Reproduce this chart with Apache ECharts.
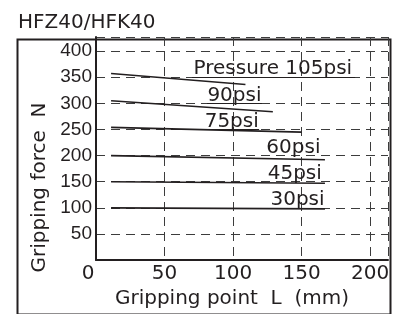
<!DOCTYPE html>
<html>
<head>
<meta charset="utf-8">
<script src="https://cdn.jsdelivr.net/npm/echarts@6.0.0/dist/echarts.min.js"></script>
<style>
  html, body { margin: 0; padding: 0; background: #fff; }
  #chart { width: 403px; height: 314px; }
</style>
</head>
<body>
<div id="chart"></div>
<script>
// pressure curves: [L (mm), force (N)] at start and end
var pressures = ['105psi', '90psi', '75psi', '60psi', '45psi', '30psi'];
var curve105 = [[11, 357], [109, 336]];
var curve90 = [[11, 305], [129, 284]];
var curve75 = [[11, 254], [150, 245]];
var curve60 = [[11, 200], [167, 192]];
var curve45 = [[11, 150], [167, 147]];
var curve30 = [[11, 100], [167, 98]];

// label anchors [x, y, text]
var labelPoints = [
    [129, 350, 'Pressure 105psi'],
    [101, 300, '90psi'],
    [99, 250, '75psi'],
    [144, 200, '60psi'],
    [145, 150, '45psi'],
    [147, 100, '30psi']
];
// underlines under the upper labels [x1, x2, y]
var underlines = [[70, 189, 350], [81, 121, 300], [80, 119, 250]];

var xTicks = [0, 50, 100, 150, 200];
var yTicks = [50, 100, 150, 200, 250, 300, 350, 400];

var ink = '#231f20';
var chart = echarts.init(document.getElementById('chart'));

var curves = [curve105, curve90, curve75, curve60, curve45, curve30];
var series = curves.map(function (c, i) {
    return {
        name: pressures[i],
        type: 'line',
        data: c,
        symbol: 'none',
        silent: true,
        lineStyle: { color: ink, width: 1.6 }
    };
});

series.push({
    name: 'labels',
    type: 'scatter',
    symbolSize: 0,
    silent: true,
    data: labelPoints,
    itemStyle: { color: ink, opacity: 1 },
    label: {
        show: true,
        position: 'top',
        distance: 0,
        offset: [0, 2],
        formatter: function (p) { return p.value[2]; },
        color: ink,
        opacity: 1,
        textBorderWidth: 0,
        fontSize: 20,
        fontFamily: 'DejaVu Sans'
    },
    markLine: {
        silent: true,
        symbol: 'none',
        label: { show: false },
        lineStyle: { color: ink, width: 1.2, type: 'solid', opacity: 1 },
        data: underlines.map(function (u) {
            return [{ coord: [u[0], u[2]] }, { coord: [u[1], u[2]] }];
        })
    }
});

chart.setOption({
    animation: false,
    title: {
        text: 'HFZ40/HFK40',
        left: 13,
        top: 8,
        textStyle: {
            color: ink,
            fontSize: 20,
            fontWeight: 'normal',
            fontFamily: 'DejaVu Sans'
        }
    },
    graphic: [{
        type: 'rect',
        left: 15,
        top: 37,
        shape: { width: 373, height: 275 },
        style: { fill: 'none', stroke: ink, lineWidth: 2 },
        silent: true
    }],
    grid: {
        left: 96,
        top: 37,
        right: 15,
        bottom: 48
    },
    xAxis: {
        type: 'value',
        min: 0,
        max: 213,
        interval: 50,
        name: 'Gripping point  L  (mm)',
        nameLocation: 'middle',
        nameGap: 21,
        nameTextStyle: {
            color: ink,
            fontSize: 20,
            fontFamily: 'DejaVu Sans',
            padding: [0, 20, 0, 0]
        },
        axisLine: { lineStyle: { color: ink, width: 2 } },
        axisTick: { show: false },
        axisLabel: {
            margin: 4,
            color: ink,
            fontSize: 20,
            fontFamily: 'DejaVu Sans',
            formatter: function (v) {
                if (xTicks.indexOf(v) < 0) return '';
                return v === 0 ? '{z|0}' : String(v);
            },
            rich: { z: { fontSize: 20, fontFamily: 'DejaVu Sans', color: ink, padding: [0, 16, 0, 0] } }
        },
        splitLine: {
            show: true,
            lineStyle: { color: '#3c3c3c', width: 1, type: [9, 6] }
        }
    },
    yAxis: {
        type: 'value',
        min: 0,
        max: 427,
        interval: 50,
        name: 'Gripping force  N',
        nameLocation: 'middle',
        nameGap: 44,
        nameTextStyle: {
            color: ink,
            fontSize: 20,
            fontFamily: 'DejaVu Sans',
            padding: [0, 78, 0, 0]
        },
        axisLine: { show: true, lineStyle: { color: ink, width: 2 } },
        axisTick: { show: false },
        axisLabel: {
            margin: 4,
            color: ink,
            fontSize: 19,
            fontFamily: 'Liberation Sans',
            formatter: function (v) {
                return yTicks.indexOf(v) < 0 ? '' : String(v);
            }
        },
        splitLine: {
            show: true,
            lineStyle: { color: '#3c3c3c', width: 1, type: [9, 6] }
        }
    },
    series: series
});
</script>
</body>
</html>
